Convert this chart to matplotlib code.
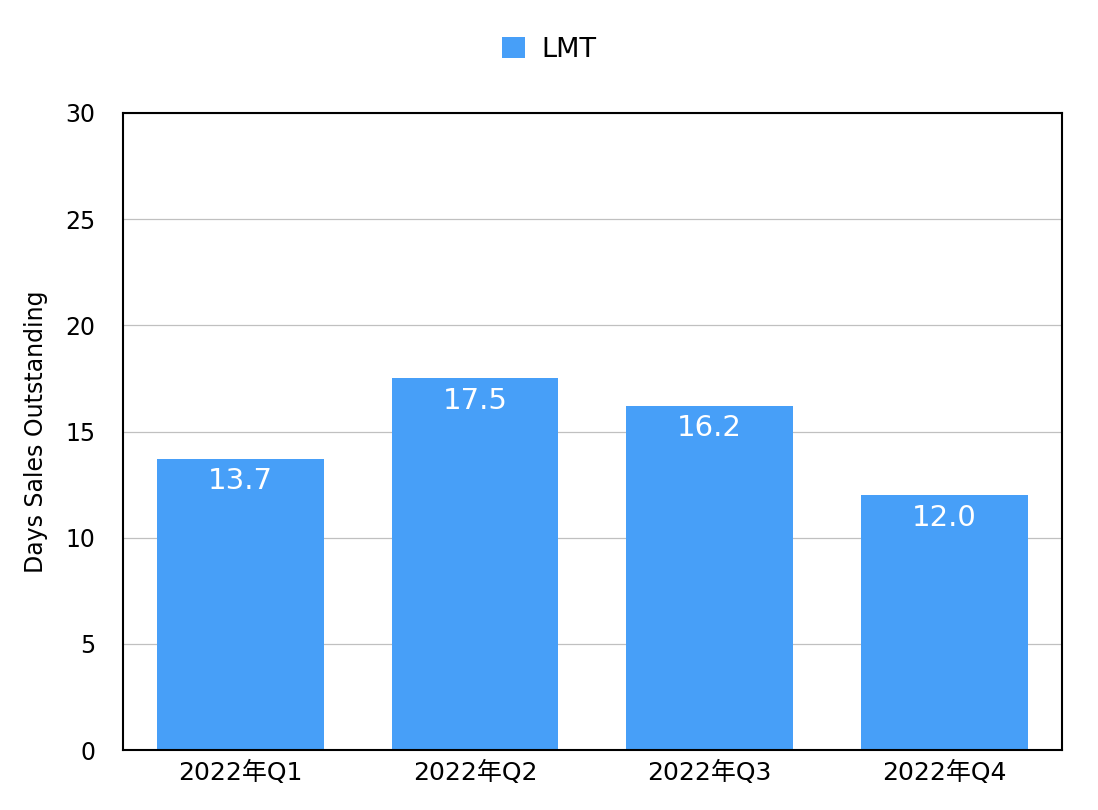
import numpy as np
import matplotlib
matplotlib.use("Agg")
import matplotlib.pyplot as plt

plt.rcParams['font.family'] = ['DejaVu Sans', 'Noto Sans CJK JP']

# Data
quarters = ["2022年Q1", "2022年Q2", "2022年Q3", "2022年Q4"]
dso = [13.7, 17.5, 16.2, 12.0]
series_name = "LMT"
bar_color = "#479FF8"

fig = plt.figure(figsize=(10.98, 8.10), dpi=100)
ax = fig.add_axes([0.112, 0.074, 0.855, 0.7865])

x = np.arange(len(quarters))
bars = ax.bar(x, dso, width=0.71, color=bar_color, label=series_name, zorder=2)

for rect, v in zip(bars, dso):
    ax.annotate(f"{v:.1f}", (rect.get_x() + rect.get_width() / 2, v),
                xytext=(0, -6), textcoords="offset points",
                ha="center", va="top", color="white", fontsize=21)

ax.set_xlim(-0.5, len(quarters) - 0.5)
ax.set_ylim(0, 30)
ax.set_yticks(np.arange(0, 31, 5))
ax.set_xticks(x)
ax.set_xticklabels(quarters)
ax.tick_params(axis="y", labelsize=17, length=0, pad=20)
ax.tick_params(axis="x", labelsize=18, length=0, pad=8)
ax.yaxis.grid(True, color="#c0c0c0", linewidth=0.9, zorder=0)
ax.set_axisbelow(True)
for s in ax.spines.values():
    s.set_linewidth(1.5)
    s.set_color("black")

ax.set_ylabel("Days Sales Outstanding", fontsize=17, labelpad=12)

fig.legend(handles=[bars], labels=[series_name], loc="upper center",
           bbox_to_anchor=(0.5, 0.985), frameon=False, fontsize=19.5,
           handlelength=0.85, handleheight=0.85, handletextpad=0.6)

fig.savefig("out.png", dpi=100)
